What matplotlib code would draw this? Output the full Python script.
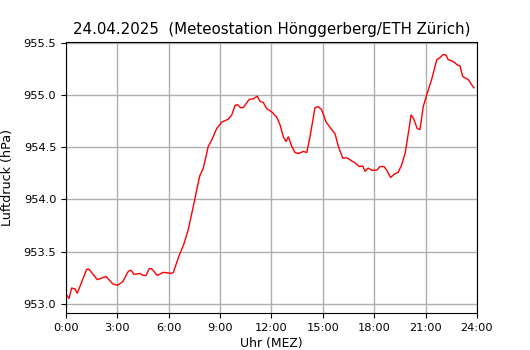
import matplotlib
matplotlib.use('Agg')
import matplotlib.pyplot as plt
from matplotlib.ticker import FuncFormatter, MultipleLocator

title = '24.04.2025  (Meteostation Hönggerberg/ETH Zürich)'

# Stunden (MEZ) und Luftdruck in hPa
hours = [0.04, 0.18, 0.33, 0.53, 0.66, 1.21, 1.34, 1.83, 2.34, 2.73, 3.0, 3.31,
         3.64, 3.80, 3.97, 4.32, 4.51, 4.67, 4.86, 5.0, 5.33, 5.68, 6.17, 6.27,
         6.56, 6.89, 7.14, 7.43, 7.67, 7.82, 8.02, 8.31, 8.51, 8.80, 9.09, 9.48,
         9.68, 9.87, 10.0, 10.2, 10.35, 10.70, 10.94, 11.17, 11.33, 11.52, 11.72,
         12.01, 12.30, 12.50, 12.69, 12.85, 12.98, 13.18, 13.37, 13.56, 13.86,
         14.06, 14.25, 14.54, 14.73, 14.93, 15.18, 15.42, 15.71, 15.90, 16.16,
         16.39, 16.68, 16.88, 17.13, 17.33, 17.46, 17.65, 17.85, 18.14, 18.34,
         18.57, 18.73, 18.96, 19.15, 19.40, 19.60, 19.80, 19.99, 20.15, 20.28,
         20.51, 20.67, 20.86, 21.06, 21.35, 21.65, 21.84, 22.03, 22.19, 22.32,
         22.52, 22.71, 22.85, 23.01, 23.16, 23.36, 23.49, 23.69, 23.82]
pressure = [953.08, 953.05, 953.15, 953.14, 953.10, 953.33, 953.33, 953.23, 953.26,
            953.19, 953.175, 953.21, 953.31, 953.32, 953.28, 953.29, 953.27, 953.27,
            953.335, 953.335, 953.27, 953.30, 953.29, 953.30, 953.44, 953.575,
            953.71, 953.93, 954.12, 954.23, 954.30, 954.51, 954.57, 954.68, 954.74,
            954.77, 954.81, 954.90, 954.91, 954.88, 954.88, 954.96, 954.965, 954.99,
            954.94, 954.93, 954.87, 954.84, 954.79, 954.715, 954.60, 954.555, 954.60,
            954.51, 954.45, 954.44, 954.46, 954.45, 954.60, 954.88, 954.89, 954.86,
            954.745, 954.69, 954.63, 954.51, 954.395, 954.40, 954.37, 954.35,
            954.315, 954.32, 954.27, 954.30, 954.28, 954.28, 954.315, 954.315,
            954.28, 954.21, 954.24, 954.26, 954.33, 954.44, 954.635, 954.81, 954.78,
            954.68, 954.67, 954.89, 955.00, 955.15, 955.34, 955.36, 955.39, 955.385,
            955.34, 955.33, 955.31, 955.29, 955.28, 955.18, 955.16, 955.15, 955.10,
            955.07]

fig = plt.figure(figsize=(5.3, 3.5), dpi=100)
ax = fig.add_axes([0.1245, 0.1057, 0.7755, 0.7743])
ax.plot(hours, pressure, color='red', linewidth=1)

ax.set_xlim(0, 24)
ax.set_ylim(952.91, 955.51)
ax.xaxis.set_major_locator(MultipleLocator(3))
ax.xaxis.set_major_formatter(FuncFormatter(lambda v, p: '%d:00' % v))
ax.yaxis.set_major_locator(MultipleLocator(0.5))
ax.yaxis.set_major_formatter(FuncFormatter(lambda v, p: '%.1f' % v))
ax.tick_params(labelsize=8.2, length=3.5)
ax.grid(True, color='#b0b0b0', linewidth=1)

ax.set_xlabel('Uhr (MEZ)', fontsize=8.9, labelpad=3)
ax.set_ylabel('Luftdruck (hPa)', fontsize=9.2, labelpad=7)
ax.set_title(title, fontsize=10.8)

fig.savefig('out.png', dpi=100)
